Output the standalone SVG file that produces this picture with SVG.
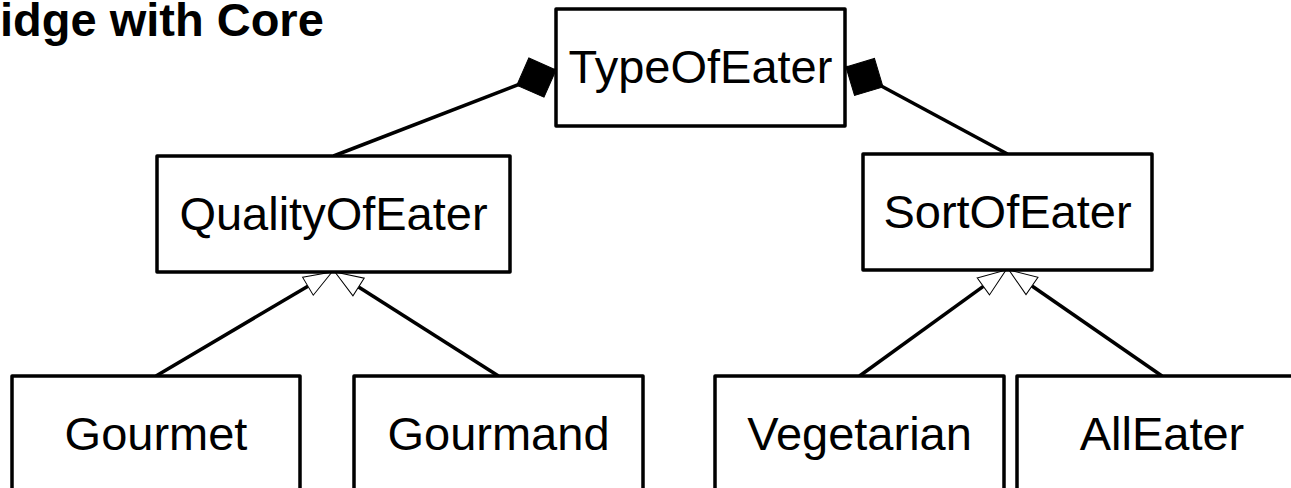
<svg xmlns="http://www.w3.org/2000/svg" width="1291" height="488" viewBox="0 0 1291 488">
  <style>
    .box { fill: #ffffff; stroke: #000000; stroke-width: 3.5; stroke-linejoin: round; }
    .label { font-family: "Liberation Sans", Arial, sans-serif; font-size: 47px; fill: #000000; text-anchor: middle; }
    .title { font-family: "Liberation Sans", Arial, sans-serif; font-size: 47px; font-weight: bold; fill: #000000; }
    .edge { fill: none; stroke: #000000; stroke-width: 3.5; }
  </style>
  <defs>
    <marker id="diamond" markerUnits="userSpaceOnUse" markerWidth="46" markerHeight="46" viewBox="-2 -23 46 46" refX="0" refY="0" orient="auto">
      <path d="M0 0 L21 -21 L42 0 L21 21 Z" fill="#000000" stroke="#000000" stroke-width="1"/>
    </marker>
    <marker id="hollow" markerUnits="userSpaceOnUse" markerWidth="32" markerHeight="26" viewBox="-1 -13 32 26" refX="0" refY="0" orient="auto">
      <path d="M0 -10.5 L28 0 L0 10.5 Z" fill="#ffffff" stroke="#000000" stroke-width="1"/>
    </marker>
  </defs>

  <text class="title" x="0" y="36">idge with Core</text>

  <g id="connectors">
    <path class="edge" d="M556 70 L333.5 156" marker-start="url(#diamond)"/>
    <path class="edge" d="M846 67 L1007.5 154" marker-start="url(#diamond)"/>
    <path class="edge" d="M156 376 L307.9 286.2" marker-end="url(#hollow)"/>
    <path class="edge" d="M498.5 376 L358.6 287" marker-end="url(#hollow)"/>
    <path class="edge" d="M859.5 376 L983.3 286.4" marker-end="url(#hollow)"/>
    <path class="edge" d="M1162 376 L1032 286" marker-end="url(#hollow)"/>
  </g>

  <g id="TypeOfEater">
    <rect class="box" x="556" y="9" width="289" height="117"/>
    <text class="label" x="700.5" y="83">TypeOfEater</text>
  </g>
  <g id="QualityOfEater">
    <rect class="box" x="157" y="156" width="353" height="116"/>
    <text class="label" x="333.5" y="230">QualityOfEater</text>
  </g>
  <g id="SortOfEater">
    <rect class="box" x="863" y="154" width="289" height="116"/>
    <text class="label" x="1007.5" y="228">SortOfEater</text>
  </g>
  <g id="Gourmet">
    <rect class="box" x="12" y="376" width="288" height="118"/>
    <text class="label" x="156" y="450">Gourmet</text>
  </g>
  <g id="Gourmand">
    <rect class="box" x="354" y="376" width="289" height="118"/>
    <text class="label" x="498.5" y="450">Gourmand</text>
  </g>
  <g id="Vegetarian">
    <rect class="box" x="715" y="376" width="289" height="118"/>
    <text class="label" x="859.5" y="450">Vegetarian</text>
  </g>
  <g id="AllEater">
    <rect class="box" x="1017" y="376" width="290" height="118"/>
    <text class="label" x="1162" y="450">AllEater</text>
  </g>
</svg>
